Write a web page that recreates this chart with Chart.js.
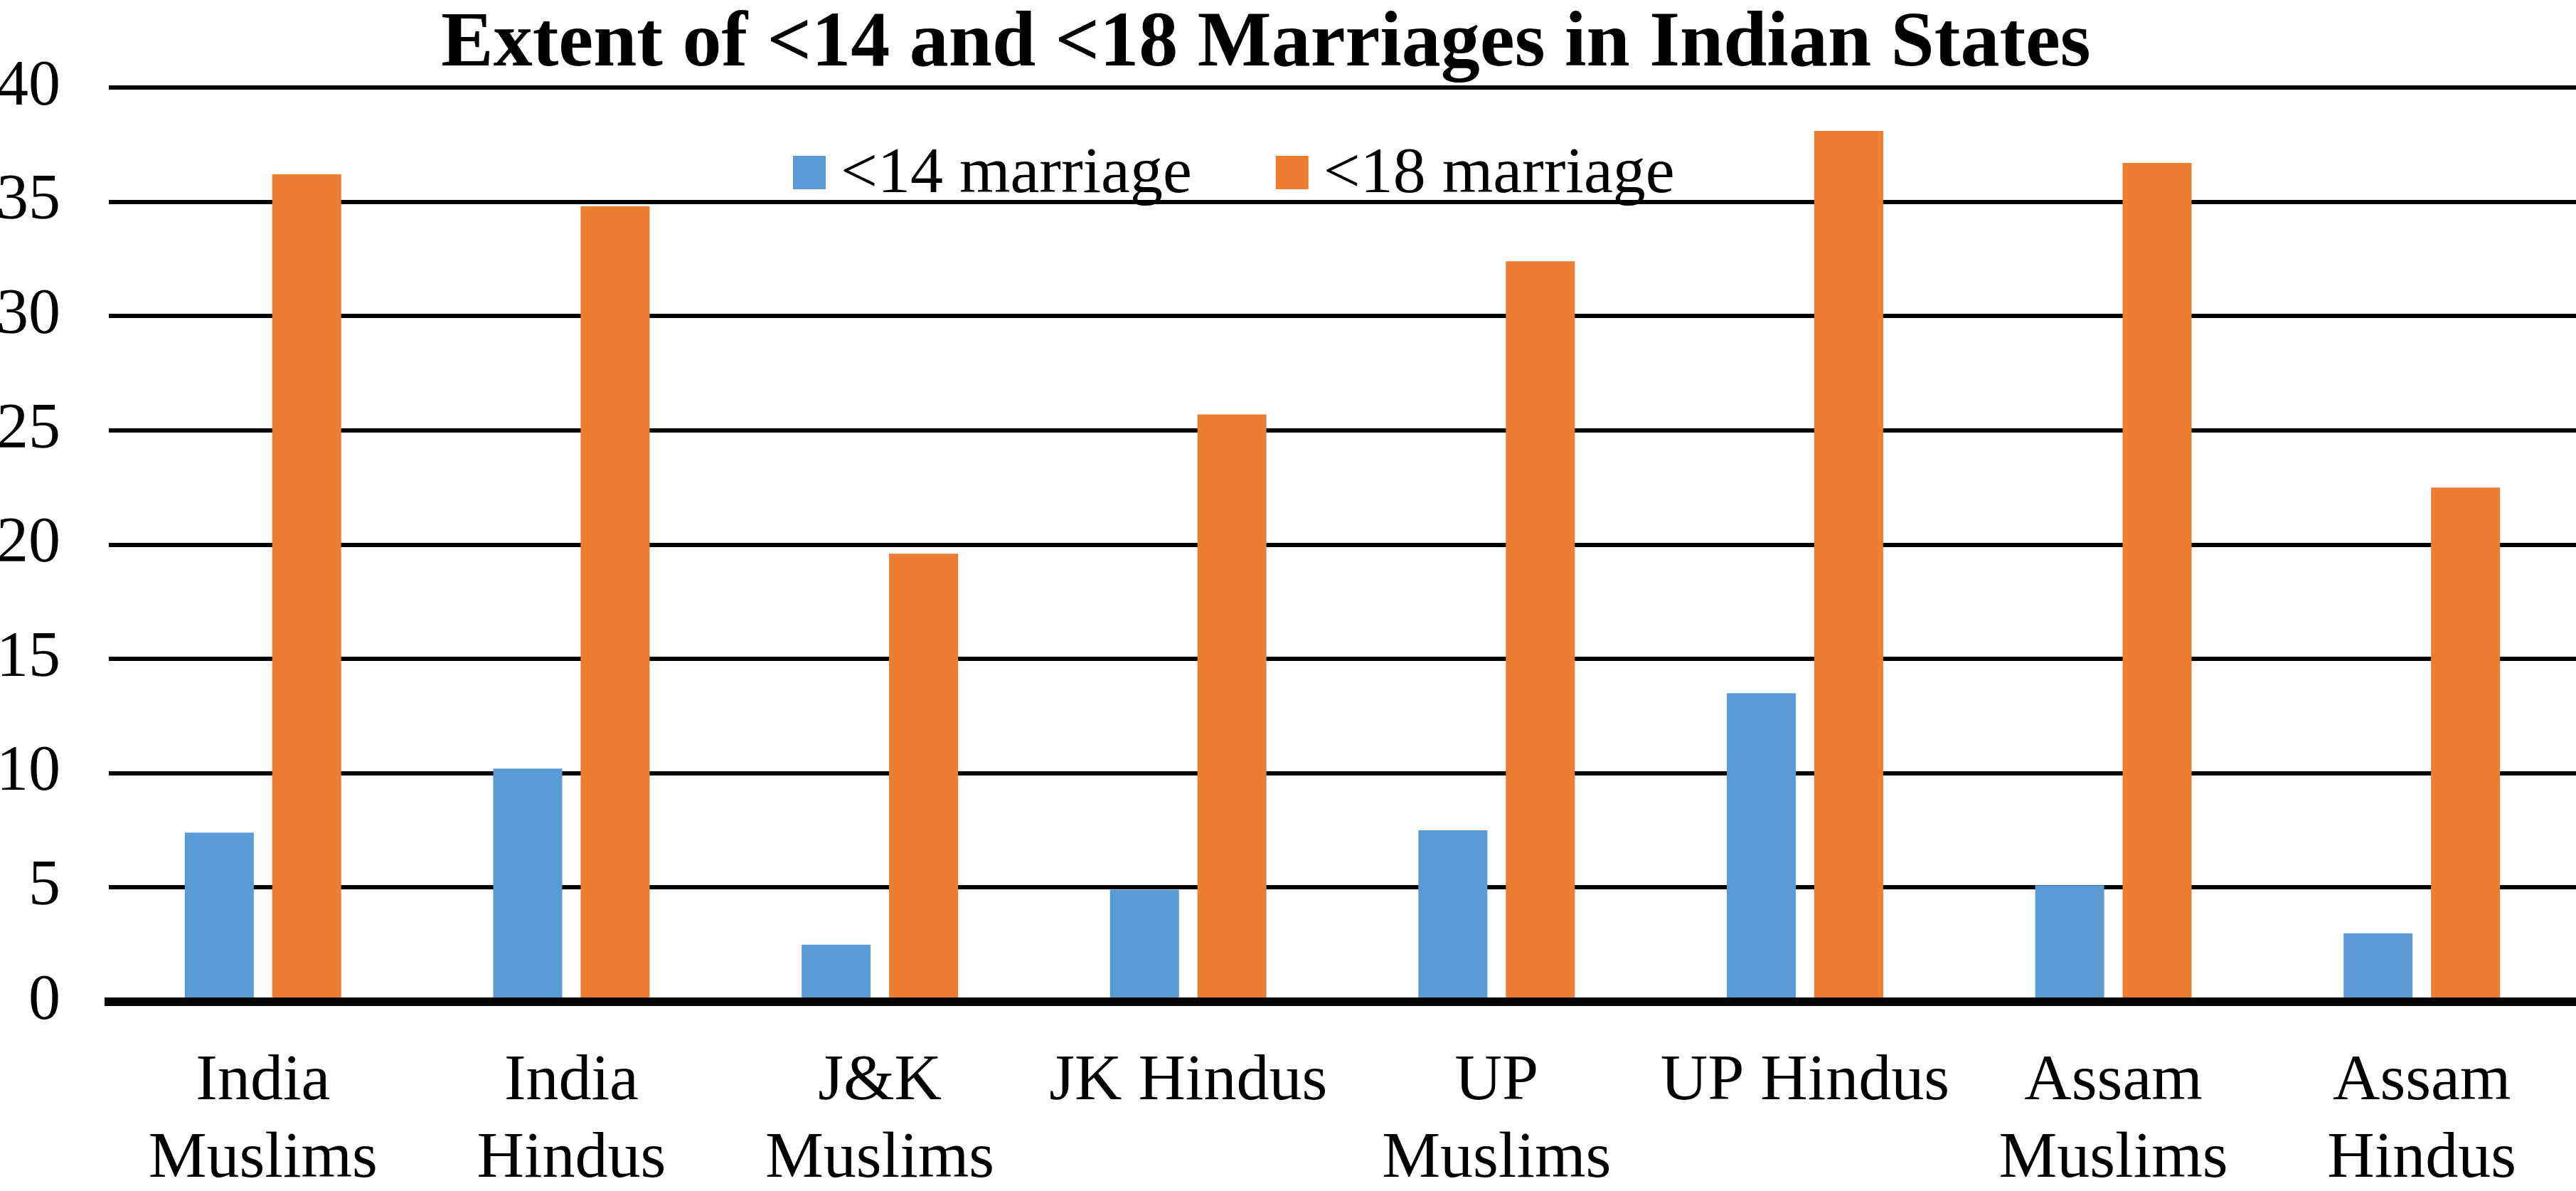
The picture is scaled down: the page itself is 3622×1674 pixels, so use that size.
<!DOCTYPE html>
<html>
<head>
<meta charset="utf-8">
<title>Extent of &lt;14 and &lt;18 Marriages in Indian States</title>
<script src="https://cdn.jsdelivr.net/npm/chart.js@4.4.1/dist/chart.umd.min.js"></script>
<style>
    html, body { margin: 0; padding: 0; background: #fff; }
    #chart-wrap { position: relative; width: 3622px; height: 1674px; }
</style>
</head>
<body>
<div id="chart-wrap"><canvas id="marriageChart"></canvas></div>
<script>
const chartTitle = 'Extent of <14 and <18 Marriages in Indian States';

// category labels (arrays = two-line labels)
const categories = [
    ['India', 'Muslims'],
    ['India', 'Hindus'],
    ['J&K', 'Muslims'],
    'JK Hindus',
    ['UP', 'Muslims'],
    'UP Hindus',
    ['Assam', 'Muslims'],
    ['Assam', 'Hindus']
];

const seriesNames = ['<14 marriage', '<18 marriage'];
const under14 = [7.4, 10.2, 2.5, 4.9, 7.5, 13.5, 5.1, 3.0];
const under18 = [36.2, 34.8, 19.6, 25.7, 32.4, 38.1, 36.7, 22.5];

const yTicks = [0, 5, 10, 15, 20, 25, 30, 35, 40];

const colors = { blue: '#5B9BD5', orange: '#ED7D31', ink: '#000000' };

// title + legend sit over the plot area in the original, so draw them ourselves
const overlayText = {
    id: 'overlayText',
    afterDraw: (chart) => {
        const ctx = chart.ctx;
        ctx.save();
        ctx.fillStyle = colors.ink;
        ctx.textBaseline = 'alphabetic';
        ctx.textAlign = 'center';
        ctx.font = 'bold 110px "Liberation Serif", "Times New Roman", serif';
        ctx.fillText(chartTitle, 1780, 92);

        ctx.font = '92px "Liberation Serif", "Times New Roman", serif';
        ctx.textAlign = 'left';
        let x = 1115;
        chart.data.datasets.forEach(ds => {
            ctx.fillStyle = ds.backgroundColor;
            ctx.fillRect(x, 219, 46, 47);
            ctx.fillStyle = colors.ink;
            ctx.fillText(ds.label, x + 67, 270);
            x += 67 + ctx.measureText(ds.label).width + 118;
        });
        ctx.restore();
    }
};

Chart.defaults.font.family = '"Liberation Serif", "Times New Roman", serif';
Chart.defaults.color = colors.ink;

const ctx = document.getElementById('marriageChart').getContext('2d');
new Chart(ctx, {
    type: 'bar',
    data: {
        labels: categories,
        datasets: [
            { label: seriesNames[0], data: under14, backgroundColor: colors.blue, borderWidth: 0 },
            { label: seriesNames[1], data: under18, backgroundColor: colors.orange, borderWidth: 0 }
        ]
    },
    options: {
        responsive: true,
        maintainAspectRatio: false,
        animation: false,
        categoryPercentage: 0.567,
        barPercentage: 0.789,
        layout: { padding: { top: 123, right: 0, bottom: 0, left: 0 } },
        plugins: {
            legend: { display: false },
            title: { display: false },
            tooltip: { enabled: false }
        },
        scales: {
            x: {
                grid: { display: false, drawTicks: false },
                border: { display: true, color: colors.ink, width: 12 },
                ticks: {
                    font: { size: 92, lineHeight: 1.19 },
                    padding: 58,
                    maxRotation: 0,
                    autoSkip: false
                },
                afterFit: (scale) => { scale.height = 266; }
            },
            y: {
                min: 0,
                max: 40,
                afterBuildTicks: (scale) => { scale.ticks = yTicks.map(v => ({ value: v })); },
                grid: {
                    color: colors.ink,
                    lineWidth: (c) => c.tick && c.tick.value === 0 ? 12 : 6,
                    drawTicks: false
                },
                border: { display: false },
                ticks: {
                    font: { size: 90 },
                    padding: 68
                },
                afterFit: (scale) => { scale.width = 153; }
            }
        }
    },
    plugins: [overlayText]
});
</script>
</body>
</html>
